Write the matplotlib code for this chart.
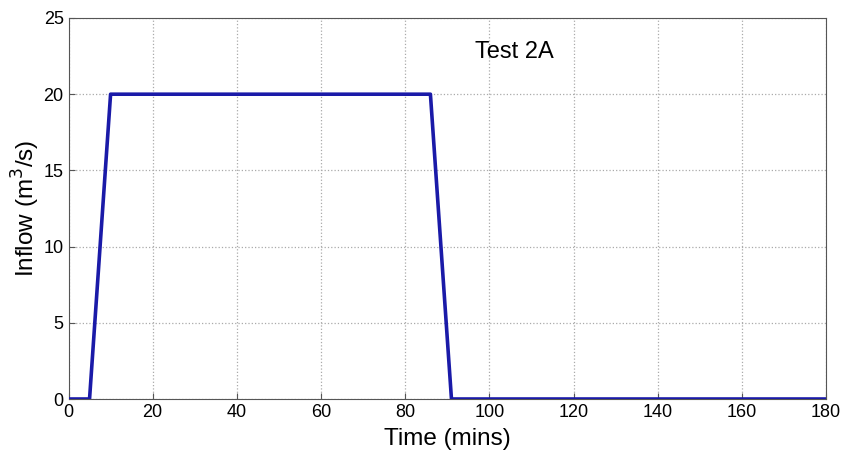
import matplotlib
matplotlib.use("Agg")
import matplotlib.pyplot as plt

# inflow hydrograph, Test 2A
time_min = [0, 5, 10, 86, 91, 180]
inflow = [0, 0, 20, 20, 0, 0]

plt.rcParams['font.family'] = ['Liberation Sans', 'DejaVu Sans']

fig = plt.figure(figsize=(8.43, 4.53), dpi=100)
ax = fig.add_axes([68.5 / 843, 54 / 453, 757.5 / 843, 381 / 453])

ax.plot(time_min, inflow, color='#1a1aa8', linewidth=2.6, zorder=3)

ax.set_xlim(0, 180)
ax.set_ylim(0, 25)
ax.set_xticks(range(0, 181, 20))
ax.set_yticks(range(0, 26, 5))
ax.grid(True, linestyle=':', color='#aaaaaa', linewidth=0.9)
ax.tick_params(labelsize=13, direction='in', length=4, color='#555555')
for s in ax.spines.values():
    s.set_color('#555555')

ax.text(96.5, 22.8, 'Test 2A', fontsize=17, va='center')
ax.set_xlabel('Time (mins)', fontsize=17.5, labelpad=5)
ax.set_ylabel('Inflow (m$^3$/s)', fontsize=17.5, labelpad=1)

fig.savefig('out.png', dpi=100)
